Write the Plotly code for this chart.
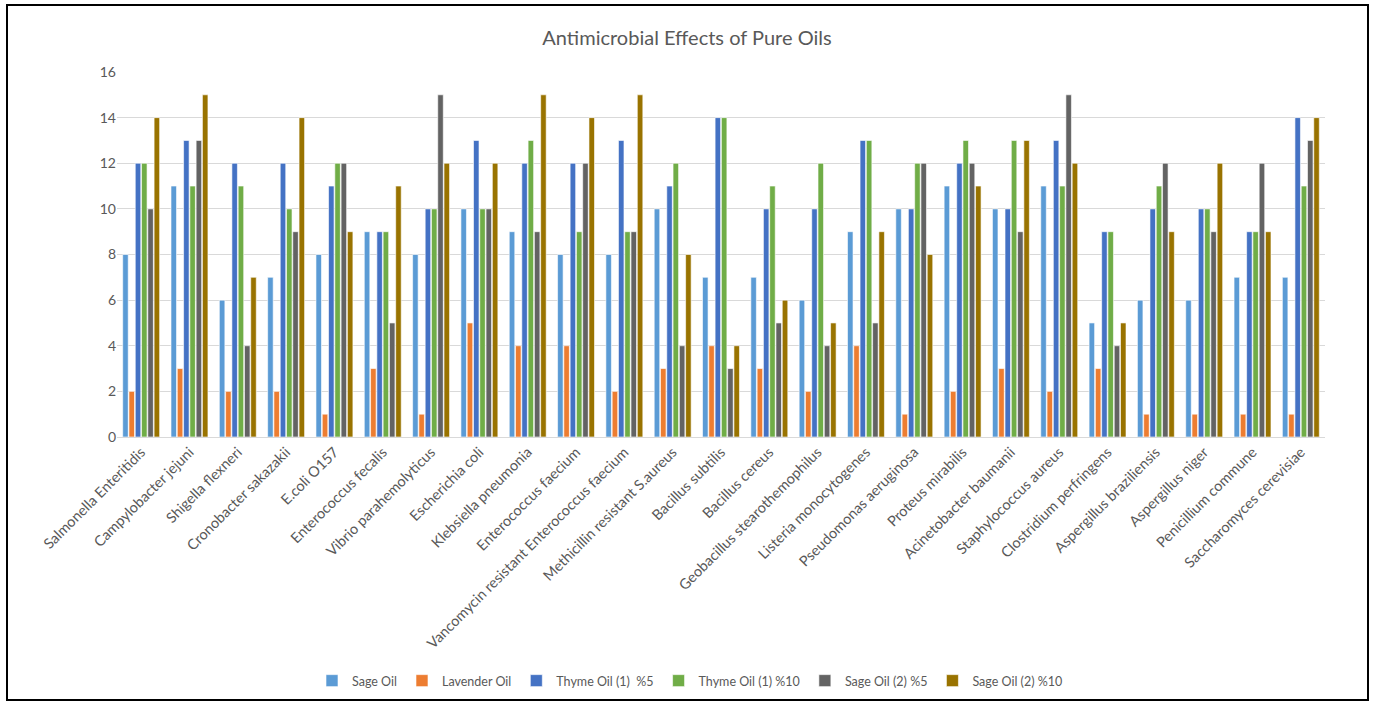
import plotly.graph_objects as go

categories = [
    "Salmonella Enteritidis", "Campylobacter jejuni", "Shigella flexneri",
    "Cronobacter sakazakii", "E.coli O157", "Enterococcus fecalis",
    "Vibrio parahemolyticus", "Escherichia coli", "Klebsiella pneumonia",
    "Enterococcus faecium", "Vancomycin resistant Enterococcus faecium",
    "Methicillin resistant S.aureus", "Bacillus subtilis", "Bacillus cereus",
    "Geobacillus stearothemophilus", "Listeria monocytogenes",
    "Pseudomonas aeruginosa", "Proteus mirabilis", "Acinetobacter baumanii",
    "Staphylococcus aureus", "Clostridium perfringens",
    "Aspergillus braziliensis", "Aspergillus niger", "Penicillium commune",
    "Saccharomyces cerevisiae",
]

sage_oil = [8, 11, 6, 7, 8, 9, 8, 10, 9, 8, 8, 10, 7, 7, 6, 9, 10, 11, 10, 11, 5, 6, 6, 7, 7]
lavender_oil = [2, 3, 2, 2, 1, 3, 1, 5, 4, 4, 2, 3, 4, 3, 2, 4, 1, 2, 3, 2, 3, 1, 1, 1, 1]
thyme1_5 = [12, 13, 12, 12, 11, 9, 10, 13, 12, 12, 13, 11, 14, 10, 10, 13, 10, 12, 10, 13, 9, 10, 10, 9, 14]
thyme1_10 = [12, 11, 11, 10, 12, 9, 10, 10, 13, 9, 9, 12, 14, 11, 12, 13, 12, 13, 13, 11, 9, 11, 10, 9, 11]
sage2_5 = [10, 13, 4, 9, 12, 5, 15, 10, 9, 12, 9, 4, 3, 5, 4, 5, 12, 12, 9, 15, 4, 12, 9, 12, 13]
sage2_10 = [14, 15, 7, 14, 9, 11, 12, 12, 15, 14, 15, 8, 4, 6, 5, 9, 8, 11, 13, 12, 5, 9, 12, 9, 14]

series_names = ["Sage Oil", "Lavender Oil", "Thyme Oil (1)  %5", "Thyme Oil (1) %10",
                "Sage Oil (2) %5", "Sage Oil (2) %10"]
series_values = [sage_oil, lavender_oil, thyme1_5, thyme1_10, sage2_5, sage2_10]
colors = ["#5B9BD5", "#ED7D31", "#4472C4", "#70AD47", "#636363", "#997300"]

fig = go.Figure()
for name, vals, col in zip(series_names, series_values, colors):
    fig.add_trace(go.Bar(
        x=categories, y=vals, name=name,
        marker=dict(color=col, line=dict(color="white", width=0.6)),
    ))

W, H = 1375, 704
ml, mr, mt, mb = 117, 50, 72, 267
pw, ph = W - ml - mr, H - mt - mb

def px_x(p):
    return (p - ml) / pw

def px_y(p):
    return (H - mb - p) / ph

FONT = "Lato, Open Sans, sans-serif"
fig.update_layout(
    width=W, height=H,
    margin=dict(l=ml, r=mr, t=mt, b=mb, autoexpand=False),
    paper_bgcolor="white", plot_bgcolor="white",
    font=dict(family=FONT, color="#595959", size=13),
    title=dict(text="Antimicrobial Effects of Pure Oils", x=px_x(687), xanchor="center",
               xref="paper", y=1 - 38 / H, yanchor="middle",
               font=dict(size=20, color="#595959", family=FONT)),
    barmode="group", bargap=0.22, bargroupgap=0.12,
    xaxis=dict(tickangle=-45, showgrid=False, showline=True, linecolor="#D9D9D9",
               ticks="", tickfont=dict(size=14.5, color="#595959", family=FONT)),
    yaxis=dict(range=[0, 16], dtick=2, showgrid=True, gridcolor="#D9D9D9",
               zeroline=False, ticks="", tickfont=dict(size=14, color="#595959", family=FONT)),
    legend=dict(orientation="h", x=px_x(690), xanchor="center", y=px_y(681), yanchor="middle",
                font=dict(size=12.5, color="#595959", family=FONT), itemwidth=30),
    shapes=[dict(type="rect", xref="paper", yref="paper",
                 x0=px_x(7), x1=px_x(1368), y0=px_y(700), y1=px_y(5),
                 line=dict(color="black", width=2), fillcolor="rgba(0,0,0,0)")],
)

fig.write_html("out.html", config={"displayModeBar": False})

# remove the default page margin so the figure sits at the window's top-left corner
with open("out.html", "r", encoding="utf-8") as f:
    html = f.read()
html = html.replace("<head>", "<head><style>html,body{margin:0;padding:0;overflow:hidden;}</style>", 1)
with open("out.html", "w", encoding="utf-8") as f:
    f.write(html)
